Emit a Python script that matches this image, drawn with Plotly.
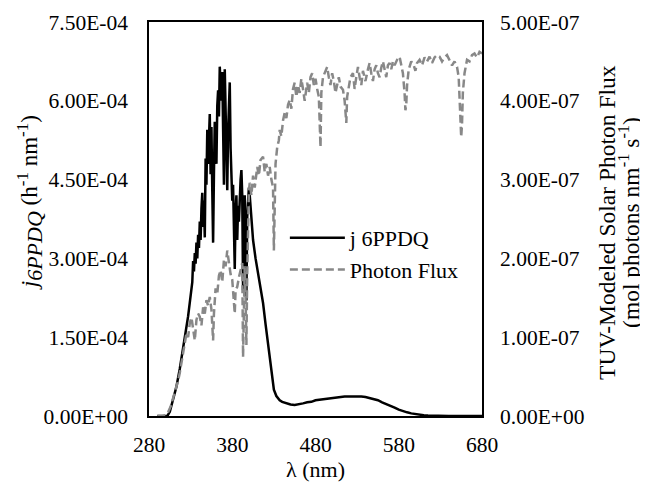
import plotly.graph_objects as go

# j 6PPDQ (h-1 nm-1)
wl_j = [290, 300, 302, 305, 309, 313, 317, 321, 324, 327, 329, 331,
        332, 333, 334, 335, 336, 337, 338, 339, 340, 341, 342, 343, 344, 345,
        346, 347, 348, 349, 350, 351, 352, 353, 354, 355, 356, 357, 358, 359,
        360, 361, 362, 363, 364, 365, 366, 367, 368, 369, 370, 371, 372, 373,
        374, 375, 376, 377, 378, 379, 380, 381, 382, 383, 384, 385, 386, 387,
        388, 389, 390, 391, 392, 393, 394, 395, 396, 397, 398, 399, 400, 401,
        402, 403, 405, 408, 411, 414, 417, 420, 423, 426, 428, 430, 433, 437,
        440, 445, 450, 455, 460, 465, 470, 475, 480, 485, 490, 495, 500, 505,
        510, 515, 520, 525, 530, 535, 540, 545, 550, 555, 560, 565, 570, 575,
        580, 585, 590, 595, 600, 605, 610, 615, 620, 630, 640, 680]
j_val = [0, 0, 0, 0.08, 0.30, 0.56, 0.90, 1.26, 1.60, 1.90, 2.20, 2.40,
         2.55, 2.95, 2.75, 3.10, 2.90, 3.30, 3.00, 3.45, 3.20, 3.70, 3.35, 3.95, 4.25, 3.60,
         4.10, 3.40, 4.90, 4.40, 5.45, 4.80, 5.20, 5.75, 4.60, 5.50, 4.30, 3.30, 4.60, 5.60,
         5.20, 4.80, 5.90, 6.20, 5.70, 6.65, 6.30, 6.00, 6.55, 5.20, 4.40, 6.60, 5.80, 4.50,
         4.30, 5.40, 5.90, 6.35, 5.10, 4.60, 4.10, 4.40, 3.50, 2.80, 3.90, 4.20, 3.35, 4.00,
         3.70, 4.30, 4.50, 4.68, 4.20, 2.40, 3.60, 4.20, 3.40, 2.20, 3.80, 4.30, 4.35, 4.20,
         4.00, 3.75, 3.35, 3.00, 2.70, 2.40, 2.15, 1.75, 1.35, 0.95, 0.70, 0.50, 0.38, 0.30,
         0.27, 0.24, 0.22, 0.21, 0.22, 0.24, 0.26, 0.27, 0.30, 0.31, 0.33, 0.34, 0.35, 0.36,
         0.36, 0.37, 0.37, 0.37, 0.38, 0.37, 0.36, 0.34, 0.33, 0.30, 0.26, 0.23, 0.19, 0.16,
         0.12, 0.09, 0.07, 0.05, 0.035, 0.025, 0.015, 0.008, 0.005, 0.002, 0, 0]
j_val = [v * 1e-4 for v in j_val]

# photon flux (mol photons nm-1 s-1)
wl_f = [290, 296, 300, 303, 306, 309, 312, 315, 317, 319, 321, 323, 325, 327, 329,
        331, 333, 335, 337, 339, 341, 343, 345, 347, 349, 351, 353, 355, 357, 358,
        360, 362, 364, 366, 368, 370, 372, 374, 376, 378, 380, 382, 383, 384, 386,
        388, 390, 392, 393, 394, 395, 396, 397, 398, 399, 400, 401, 403, 405, 407,
        410, 412, 414, 417, 419, 421, 423, 425, 427, 429, 430, 431, 432, 434, 436,
        437, 439, 441, 443, 445, 447, 449, 451, 453, 455, 457, 459, 461, 463, 465,
        467, 470, 472, 474, 476, 478, 480, 482, 484, 486, 487, 489, 492, 494, 496,
        498, 500, 502, 504, 506, 508, 510, 513, 515, 517, 518, 520, 522, 525, 527,
        529, 531, 533, 535, 537, 540, 543, 545, 547, 549, 551, 553, 555, 557, 559,
        561, 563, 565, 567, 569, 571, 573, 575, 578, 581, 583, 585, 587, 588, 589,
        590, 592, 595, 598, 600, 602, 605, 608, 611, 614, 617, 620, 623, 626, 629,
        632, 635, 638, 641, 644, 647, 650, 652, 654, 655, 656, 657, 659, 662, 665,
        668, 671, 674, 677, 680]
flux_val = [0, 0, 0.01, 0.05, 0.12, 0.22, 0.33, 0.45, 0.55, 0.68, 0.80, 0.95, 1.05, 1.00, 1.18,
            1.25, 1.10, 0.96, 1.22, 1.30, 1.26, 1.15, 1.38, 1.30, 1.47, 1.40, 1.51, 1.35, 0.96, 1.30,
            1.62, 1.55, 1.78, 1.85, 1.70, 1.98, 1.90, 2.10, 1.95, 1.80, 1.73, 1.45, 1.30, 1.60, 1.64,
            1.76, 1.85, 1.94, 0.75, 1.40, 1.90, 1.50, 0.90, 1.80, 2.40, 2.85, 2.96, 2.80, 3.05, 2.90,
            3.16, 3.05, 3.25, 3.29, 3.10, 3.20, 3.05, 3.16, 3.00, 2.90, 2.10, 2.70, 3.20, 3.41, 3.50,
            3.63, 3.55, 3.75, 3.85, 3.78, 3.95, 4.01, 3.90, 4.15, 4.23, 4.05, 4.20, 4.10, 4.28, 4.15,
            4.00, 4.23, 4.10, 4.30, 4.35, 4.20, 4.28, 4.15, 4.05, 3.41, 4.10, 4.30, 4.38, 4.43, 4.30,
            4.20, 4.35, 4.25, 4.10, 4.23, 4.30, 4.18, 4.14, 4.00, 3.72, 4.05, 4.20, 4.30, 4.35, 4.15,
            4.30, 4.43, 4.30, 4.20, 4.38, 4.25, 4.40, 4.48, 4.35, 4.25, 4.40, 4.45, 4.35, 4.30, 4.42,
            4.50, 4.40, 4.30, 4.45, 4.48, 4.40, 4.50, 4.45, 4.52, 4.56, 4.45, 4.35, 4.10, 3.88, 3.95,
            4.20, 4.40, 4.50, 4.45, 4.38, 4.48, 4.52, 4.45, 4.55, 4.50, 4.56, 4.48, 4.55, 4.58, 4.56,
            4.50, 4.55, 4.58, 4.52, 4.45, 4.50, 4.43, 4.30, 3.90, 3.54, 3.70, 4.10, 4.35, 4.52, 4.50,
            4.58, 4.60, 4.55, 4.62, 4.60]
flux_val = [v * 1e-7 for v in flux_val]

# tick labels in Excel style
x_ticks = [280, 380, 480, 580, 680]
j_ticks = [0, 1.5e-4, 3.0e-4, 4.5e-4, 6.0e-4, 7.5e-4]
j_ticktext = ["0.00E+00", "1.50E-04", "3.00E-04", "4.50E-04", "6.00E-04", "7.50E-04"]
f_ticks = [0, 1e-7, 2e-7, 3e-7, 4e-7, 5e-7]
f_ticktext = ["0.00E+00", "1.00E-07", "2.00E-07", "3.00E-07", "4.00E-07", "5.00E-07"]

font = "Liberation Serif, Times New Roman, serif"
sub_txt = "<span style='font-size:22px'><i>6PPDQ</i></span>"
sup_txt = "<span style='font-size:17px'>-1</span>"

fig = go.Figure()
fig.add_trace(go.Scatter(x=wl_j, y=j_val, name="j 6PPDQ", mode="lines",
                         line=dict(color="black", width=2.5)))
fig.add_trace(go.Scatter(x=wl_f, y=flux_val, name="Photon Flux", mode="lines", yaxis="y2",
                         line=dict(color="#888888", width=2.5, dash="8px,4px")))

fig.update_layout(
    width=648, height=486,
    margin=dict(l=141, r=174, t=14, b=78),
    paper_bgcolor="white", plot_bgcolor="white",
    font=dict(family=font, size=21.5, color="black"),
    showlegend=True,
    legend=dict(x=0.408, y=0.505, xanchor="left", yanchor="top",
                bgcolor="rgba(0,0,0,0)", font=dict(size=22), tracegroupgap=0,
                itemwidth=55),
    xaxis=dict(range=[280, 680], tickvals=x_ticks, showgrid=False, zeroline=False,
               showline=True, linecolor="black", linewidth=1.5, mirror=True,
               ticks="", ticklabelstandoff=8, automargin=False,
               title=dict(text="λ (nm)", standoff=2, font=dict(size=22))),
    yaxis=dict(range=[0, 7.5e-4], tickvals=j_ticks, ticktext=j_ticktext, showgrid=False,
               zeroline=False, showline=True, linecolor="black", linewidth=1.5,
               ticks="", ticklabelstandoff=15, automargin=False),
    yaxis2=dict(range=[0, 5e-7], tickvals=f_ticks, ticktext=f_ticktext, overlaying="y",
                side="right", showgrid=False, zeroline=False, showline=True,
                linecolor="black", linewidth=1.5, ticks="", ticklabelstandoff=12,
                automargin=False),
    annotations=[
        dict(text="<i>j</i><sub>" + sub_txt + "</sub> (h<sup>" + sup_txt + "</sup> nm<sup>"
                  + sup_txt + "</sup>)",
             xref="paper", yref="paper", x=0, xshift=-119, y=0.54, textangle=-90,
             showarrow=False, font=dict(size=23), xanchor="center", yanchor="middle"),
        dict(text="TUV-Modeled Solar Photon Flux", xref="paper", yref="paper",
             x=1.0, xshift=125, y=0.49, textangle=-90, showarrow=False,
             font=dict(size=23.5), xanchor="center", yanchor="middle"),
        dict(text="(mol photons nm<sup>-1</sup> s<sup>-1</sup>)", xref="paper", yref="paper",
             x=1.0, xshift=147, y=0.49, textangle=-90, showarrow=False,
             font=dict(size=23.5), xanchor="center", yanchor="middle"),
    ],
)

fig.write_html("out.html")
